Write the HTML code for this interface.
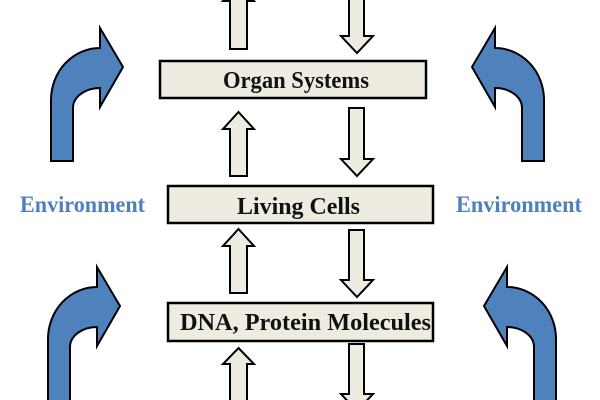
<!DOCTYPE html>
<html>
<head>
<meta charset="utf-8">
<style>
  html, body { margin: 0; padding: 0; background: #ffffff; }
  svg { display: block; }
  .lbl { font-family: "Liberation Serif", serif; font-weight: bold; font-size: 24px; fill: #111; }
  .env { font-family: "Liberation Serif", serif; font-weight: bold; font-size: 23px; fill: #4f7fbd; }
</style>
</head>
<body>
<svg width="600" height="400" viewBox="0 0 600 400" xmlns="http://www.w3.org/2000/svg">
  <rect x="0" y="0" width="600" height="400" fill="#ffffff"/>

  <!-- Blue bent arrows -->
  <g fill="#4f81bd" stroke="#000" stroke-width="2" stroke-linejoin="miter">
    <path d="M51,161 L51,100 A49,52 0 0 1 100,48 L100,28 L123,67 L100,107 L100,88 A27,20 0 0 0 73,108 L73,161 Z"/>
    <path d="M544,161 L544,100 A49,52 0 0 0 495,48 L495,28 L472,67 L495,107 L495,88 A27,20 0 0 1 522,108 L522,161 Z"/>
    <path d="M48,412 L48,339 A49,52 0 0 1 97,287 L97,267 L120,306 L97,346 L97,327 A27,20 0 0 0 70,347 L70,412 Z"/>
    <path d="M556,412 L556,339 A49,52 0 0 0 507,287 L507,267 L484,306 L507,346 L507,327 A27,20 0 0 1 534,347 L534,412 Z"/>
  </g>

  <!-- Hollow vertical arrows -->
  <g fill="#eeece1" stroke="#000" stroke-width="2" stroke-linejoin="miter">
    <polygon points="238.5,-16 254,1 247,1 247,49 230,49 230,1 223,1"/>
    <polygon points="349,-20 364,-20 364,36 373,36 357,53 341,36 349,36"/>
    <polygon points="238.5,112 254,129 247,129 247,176 230,176 230,129 223,129"/>
    <polygon points="349,108 364,108 364,159 373,159 357,176 341,159 349,159"/>
    <polygon points="238.5,229 254,246 247,246 247,293 230,293 230,246 223,246"/>
    <polygon points="349,230 364,230 364,280 373,280 357,297 341,280 349,280"/>
    <polygon points="238.5,348 254,364 247,364 247,412 230,412 230,364 223,364"/>
    <polygon points="349,344 364,344 364,394 373,394 357,411 341,394 349,394"/>
  </g>

  <!-- Boxes -->
  <g fill="#eeece1" stroke="#000" stroke-width="2.5">
    <rect x="160" y="61" width="266" height="37"/>
    <rect x="168" y="186" width="265" height="37"/>
    <rect x="168" y="303" width="265" height="38"/>
  </g>

  <!-- Box labels -->
  <text class="lbl" x="223" y="88" textLength="146" lengthAdjust="spacingAndGlyphs">Organ  Systems</text>
  <text class="lbl" x="237" y="214" textLength="123" lengthAdjust="spacingAndGlyphs">Living  Cells</text>
  <text class="lbl" x="180" y="330" textLength="251" lengthAdjust="spacingAndGlyphs">DNA, Protein  Molecules</text>

  <!-- Environment labels -->
  <text class="env" x="20" y="212" textLength="125" lengthAdjust="spacingAndGlyphs">Environment</text>
  <text class="env" x="456" y="212" textLength="126" lengthAdjust="spacingAndGlyphs">Environment</text>
</svg>
</body>
</html>
